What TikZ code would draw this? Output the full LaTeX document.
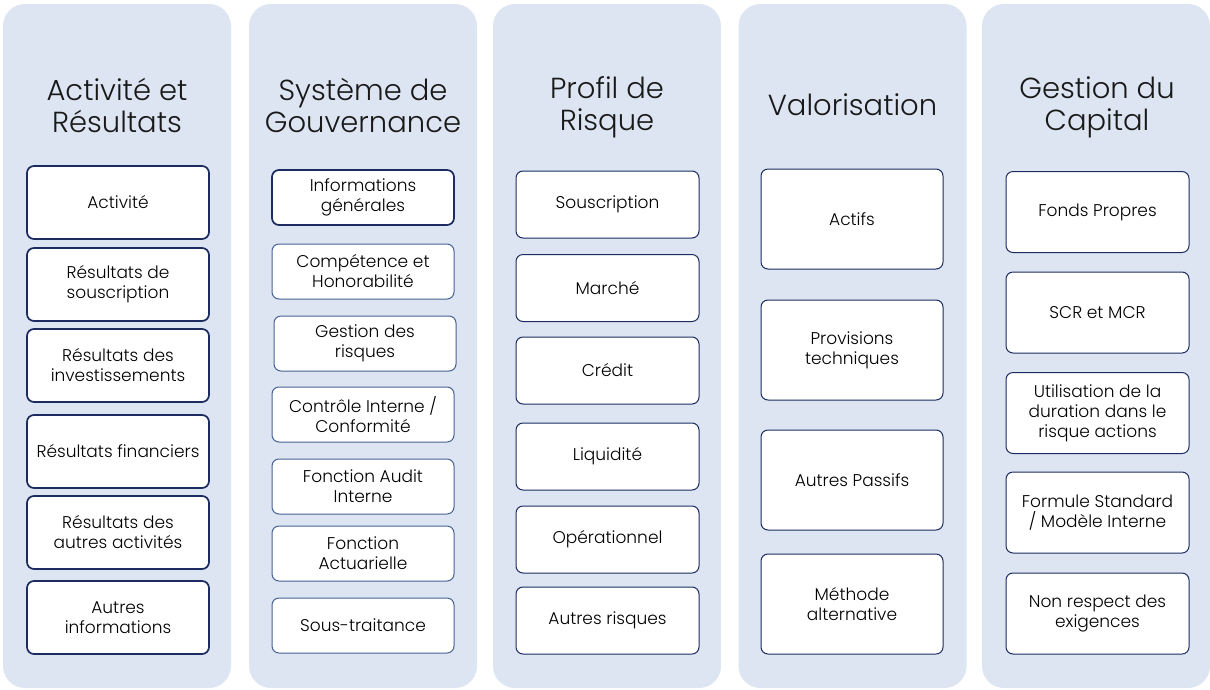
\documentclass[tikz,border=0pt]{standalone}
\usepackage{fontspec}
\IfFontExistsTF{Poppins Light}{\setmainfont{Poppins Light}}{\setmainfont{Poppins}}
\usepackage{tikz}
\usetikzlibrary{positioning}
\definecolor{colfill}{RGB}{220,229,241}
\definecolor{navy}{RGB}{28,44,96}
\definecolor{softnavy}{RGB}{72,98,148}
\tikzset{
  column/.style={
    rectangle,
    fill=colfill,
    rounded corners=22pt,
    minimum width=228pt,
    minimum height=684pt
  },
  item/.style={
    rectangle,
    draw=navy,
    fill=white,
    rounded corners=7pt,
    align=center,
    inner sep=2pt,
    line width=1pt,
    font=\fontsize{17}{20}\selectfont
  }
}

\begin{document}
\begin{tikzpicture}[
  x=1pt, y=-1pt,
  heading/.style={align=center, text=black!90, font=\fontsize{29}{32}\selectfont},
  actbox/.style={item, line width=1.7pt, minimum width=182pt, minimum height=73pt},
  govbox/.style={item, draw=softnavy, minimum width=182pt, minimum height=55pt},
  riskbox/.style={item, minimum width=183pt, minimum height=67pt},
  valbox/.style={item, minimum width=182pt, minimum height=100pt},
  capbox/.style={item, minimum width=183pt, minimum height=81pt}
]
  \useasboundingbox (0,0) rectangle (1210,689);

  % Columns
  \node[column] (colact) at (117,346) {};
  \node[column] (colgov) at (363,346) {};
  \node[column] (colrisk) at (607,346) {};
  \node[column] (colval) at (852.5,346) {};
  \node[column] (colcap) at (1096,346) {};

  % Column titles
  \node[heading] (tact) at (117,105) {Activité et\\Résultats};
  \node[heading] (tgov) at (363,105) {Système de\\Gouvernance};
  \node[heading] (trisk) at (607,107.5) {Profil de\\Risque};
  \node[heading, anchor=base] (tval) at (852.5,115) {Valorisation};
  \node[heading] (tcap) at (1097,107.5) {Gestion du\\Capital};

  % Activité et Résultats
  \node[actbox] (activite) at (118,202.5) {Activité};
  \node[actbox] (ressousc) at (118,284.5) {Résultats de\\souscription};
  \node[actbox] (resinv) at (118,365.5) {Résultats des\\investissements};
  \node[actbox] (resfin) at (118,451.5) {Résultats financiers};
  \node[actbox] (resautres) at (118,532.5) {Résultats des\\autres activités};
  \node[actbox] (autresinfo) at (118,617.5) {Autres\\informations};

  % Système de Gouvernance
  \node[govbox, draw=navy, line width=1.7pt] (infogen) at (363,197.5) {Informations\\générales};
  \node[govbox] (competence) at (363,271.5) {Compétence et\\Honorabilité};
  \node[govbox] (gestrisk) at (365,343.5) {Gestion des\\risques};
  \node[govbox] (controle) at (363,414.5) {Contrôle Interne /\\Conformité};
  \node[govbox] (audit) at (363,486.5) {Fonction Audit\\Interne};
  \node[govbox] (actuar) at (363,553.5) {Fonction\\Actuarielle};
  \node[govbox] (soustrait) at (363,625.5) {Sous-traitance};

  % Profil de Risque
  \node[riskbox] (souscription) at (607.5,204.5) {Souscription};
  \node[riskbox] (marche) at (607.5,288) {Marché};
  \node[riskbox] (credit) at (607.5,370.5) {Crédit};
  \node[riskbox] (liquidite) at (607.5,456.5) {Liquidité};
  \node[riskbox] (operationnel) at (607.5,539.5) {Opérationnel};
  \node[riskbox] (autresrisk) at (607.5,620.5) {Autres risques};

  % Valorisation
  \node[valbox] (actifs) at (852,219) {Actifs};
  \node[valbox] (provisions) at (852,350) {Provisions\\techniques};
  \node[valbox] (passifs) at (852,480) {Autres Passifs};
  \node[valbox] (methode) at (852,604) {Méthode\\alternative};

  % Gestion du Capital
  \node[capbox] (fonds) at (1097.5,212) {Fonds Propres};
  \node[capbox] (scrmcr) at (1097.5,312.5) {SCR et MCR};
  \node[capbox] (duration) at (1097.5,413) {Utilisation de la\\duration dans le\\risque actions};
  \node[capbox] (formule) at (1097.5,512.5) {Formule Standard\\/ Modèle Interne};
  \node[capbox] (nonrespect) at (1097.5,613.5) {Non respect des\\exigences};
\end{tikzpicture}
\end{document}
